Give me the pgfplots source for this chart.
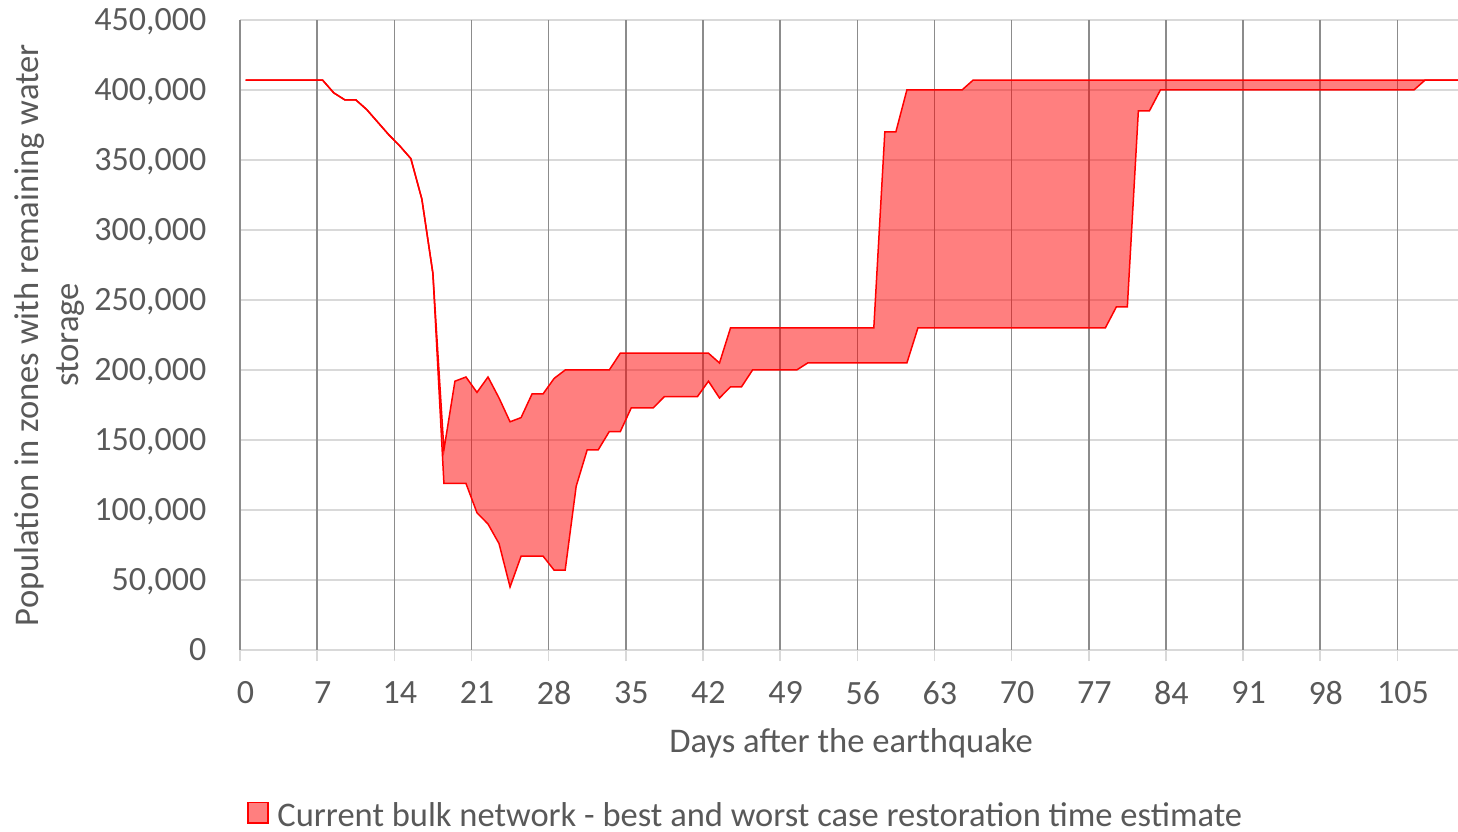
\documentclass[border=0pt]{standalone}
\usepackage{pgfplots}
\pgfplotsset{compat=1.18}
\usepgfplotslibrary{fillbetween}
\usepackage{fontspec}
\setmainfont{Carlito}
\definecolor{textgray}{HTML}{595959}
\definecolor{hgrid}{HTML}{D9D9D9}
\definecolor{vgrid}{HTML}{8C8C8C}

\begin{document}
\fontsize{17bp}{20.4bp}\selectfont
\begin{tikzpicture}
\begin{axis}[
  at={(0,0)}, anchor=south west,
  scale only axis, width=609bp, height=315bp,
  xmin=-0.5, xmax=110, ymin=0, ymax=450000,
  axis line style={draw=none},
  xtick={0,7,14,21,28,35,42,49,56,63,70,77,84,91,98,105},
  xticklabels={0,7,14,21,28,35,42,49,56,63,70,77,84,91,98,105},
  ytick={0,50000,100000,150000,200000,250000,300000,350000,400000,450000},
  yticklabels={0,{50,000},{100,000},{150,000},{200,000},{250,000},{300,000},{350,000},{400,000},{450,000}},
  scaled y ticks=false,
  major tick length=0pt,
  tick pos=left,
  ymajorgrids,
  major grid style={draw=hgrid, line width=0.75bp},
  extra x ticks={-0.5,6.5,13.5,20.5,27.5,34.5,41.5,48.5,55.5,62.5,69.5,76.5,83.5,90.5,97.5,104.5},
  extra x tick labels={},
  extra x tick style={grid=major, major grid style={draw=vgrid, line width=0.75bp}, major tick length=5.5bp, tick align=outside, tick style={draw=hgrid, line width=0.75bp}},
  every tick label/.append style={text=textgray},
  xticklabel style={anchor=center, inner sep=0pt, yshift=-21.4bp},
  yticklabel style={anchor=base east, inner sep=0pt, xshift=-16.65bp, yshift=-5.35bp},
  legend style={draw=none, fill=none, inner sep=0pt, outer sep=0pt, at={(axis description cs:0.006,-0.2408)}, anchor=north west, nodes={inner sep=0pt, text=textgray}, font=\fontsize{17.25bp}{20.7bp}\selectfont},
  legend image code/.code={\draw[fill=red, fill opacity=0.5, draw=red, line width=0.75bp] (0bp,-3.2bp) rectangle (10bp,7.1bp);},
]
\addplot[name path=best, draw=red, line width=0.75bp, forget plot] table {
x y
0 407000
7 407000
8 398000
9 393000
10 393000
11 386000
12 377000
13 368000
14 360000
15 351000
16 322000
17 269000
18 143000
19 192000
20 195000
21 184000
22 195000
23 180000
24 163000
25 166000
26 183000
27 183000
28 194000
29 200000
33 200000
34 212000
42 212000
43 205000
44 230000
57 230000
58 370000
59 370000
60 400000
65 400000
66 407000
110 407000
};
\addplot[name path=worst, draw=red, line width=0.75bp, forget plot] table {
x y
0 407000
7 407000
8 398000
9 393000
10 393000
11 386000
12 377000
13 368000
14 360000
15 351000
16 322000
17 269000
18 119000
20 119000
21 98000
22 90000
23 76000
24 45000
25 67000
27 67000
28 57000
29 57000
30 117000
31 143000
32 143000
33 156000
34 156000
35 173000
37 173000
38 181000
41 181000
42 192000
43 180000
44 188000
45 188000
46 200000
50 200000
51 205000
60 205000
61 230000
78 230000
79 245000
80 245000
81 385000
82 385000
83 400000
106 400000
107 407000
110 407000
};
\addplot[fill=red, fill opacity=0.5, draw=none, forget plot] fill between[of=best and worst];
\addlegendimage{red}
\addlegendentry{\hspace*{4.3bp}Current bulk network - best and worst case restoration time estimate}
\end{axis}
\node[rotate=90, align=center, inner sep=0pt, text=textgray, font=\fontsize{17.3bp}{20bp}\selectfont] at (-95.25bp,157.5bp) {Population in zones with remaining water\\storage};
\node[anchor=base, inner sep=0pt, text=textgray, font=\fontsize{17.3bp}{20.8bp}\selectfont] at (305.5bp,-51bp) {Days after the earthquake};
\pgfresetboundingbox
\path[use as bounding box] (-120bp,-91bp) rectangle (609bp,325bp);
\end{tikzpicture}
\end{document}
